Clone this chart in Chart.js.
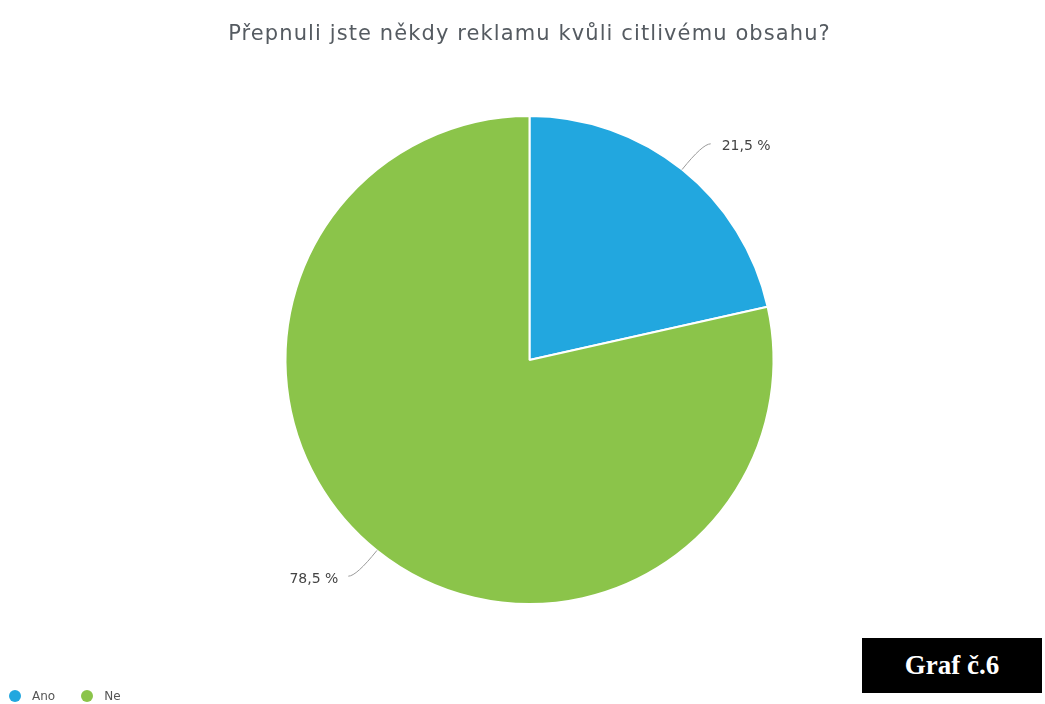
<!DOCTYPE html>
<html>
<head>
<meta charset="utf-8">
<script src="https://cdn.jsdelivr.net/npm/chart.js@4/dist/chart.umd.min.js"></script>
<style>
  html, body { margin: 0; padding: 0; background: #fff; }
  #wrap { position: relative; width: 1045px; height: 704px; overflow: hidden; }
  #chart { position: absolute; left: 0; top: 0; }
  #title { position: absolute; left: 14px; right: 0; top: 20px; text-align: center;
           font-family: "DejaVu Sans", sans-serif; font-size: 21px; letter-spacing: 1.1px;
           color: #555b61; line-height: 26px; }
  #legend { position: absolute; left: 9px; top: 688px; font-family: "DejaVu Sans", sans-serif;
            font-size: 12px; color: #555; display: flex; gap: 26px; line-height: 16px; }
  #legend span.item { display: inline-flex; align-items: center; }
  #legend span.dot { display: inline-block; width: 12px; height: 12px; border-radius: 50%; margin-right: 11px; }
  #badge { position: absolute; left: 862px; top: 638px; width: 180px; height: 55px; background: #000;
           color: #fff; font-family: "Liberation Serif", serif; font-size: 27px; font-weight: bold;
           display: flex; align-items: center; justify-content: center; }
</style>
</head>
<body>
<div id="wrap">
  <canvas id="chart" width="1045" height="704"></canvas>
  <div id="title"></div>
  <div id="legend"></div>
  <div id="badge"></div>
</div>
<script>
const chartTitle = "Přepnuli jste někdy reklamu kvůli citlivému obsahu?";
const categories = ["Ano", "Ne"];
const shares = [21.5, 78.5];
const sliceColors = ["#22a7df", "#8bc44a"];
const badgeText = "Graf č.6";

document.getElementById("title").textContent = chartTitle;
document.getElementById("badge").textContent = badgeText;
const legend = document.getElementById("legend");
categories.forEach((c, i) => {
  const item = document.createElement("span");
  item.className = "item";
  const dot = document.createElement("span");
  dot.className = "dot";
  dot.style.background = sliceColors[i];
  item.appendChild(dot);
  item.appendChild(document.createTextNode(c));
  legend.appendChild(item);
});

const fmt = v => v.toFixed(1).replace(".", ",") + " %";

// Outside labels with a short radial leader that bends horizontally
const leaderLabels = {
  id: "leaderLabels",
  afterDatasetsDraw(chart) {
    const ctx = chart.ctx;
    const meta = chart.getDatasetMeta(0);
    ctx.save();
    ctx.font = "14px 'DejaVu Sans', sans-serif";
    ctx.fillStyle = "#444";
    ctx.strokeStyle = "#9a9a9a";
    ctx.lineWidth = 1;
    meta.data.forEach((arc, i) => {
      const mid = (arc.startAngle + arc.endAngle) / 2;
      const cx = arc.x, cy = arc.y, r = arc.outerRadius;
      const x0 = cx + Math.cos(mid) * r, y0 = cy + Math.sin(mid) * r;
      const x1 = cx + Math.cos(mid) * (r + 33), y1 = cy + Math.sin(mid) * (r + 33);
      const right = Math.cos(mid) >= 0;
      const x2 = x1 + (right ? 8 : -8);
      ctx.beginPath();
      ctx.moveTo(x0, y0);
      ctx.quadraticCurveTo(x1, y1, x2, y1);
      ctx.stroke();
      ctx.textBaseline = "middle";
      ctx.textAlign = right ? "left" : "right";
      ctx.fillText(fmt(shares[i]), x2 + (right ? 11 : -10), y1 + 3);
    });
    ctx.restore();
  }
};

new Chart(document.getElementById("chart"), {
  type: "pie",
  data: {
    labels: categories,
    datasets: [{
      data: shares,
      backgroundColor: sliceColors,
      borderColor: "#ffffff",
      borderWidth: 2
    }]
  },
  options: {
    responsive: false,
    animation: false,
    layout: { padding: { top: 115, bottom: 99, left: 14, right: 0 } },
    plugins: {
      legend: { display: false },
      title: { display: false },
      tooltip: { enabled: false }
    }
  },
  plugins: [leaderLabels]
});
</script>
</body>
</html>
